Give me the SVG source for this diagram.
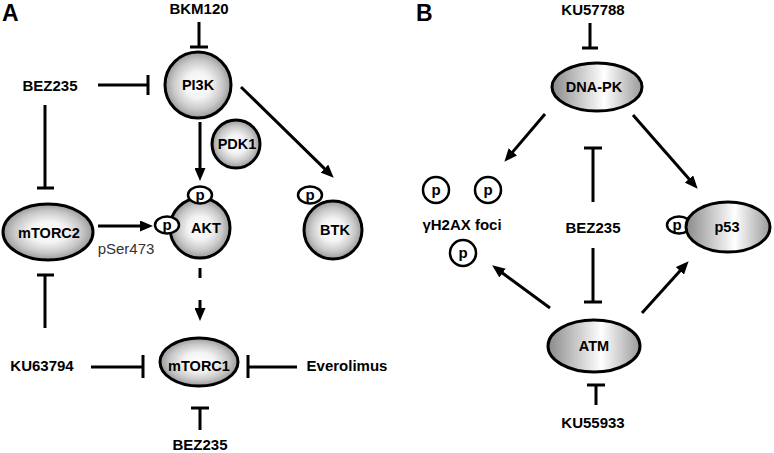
<svg xmlns="http://www.w3.org/2000/svg" width="774" height="453" viewBox="0 0 774 453">
<defs>
<radialGradient id="rg" cx="50%" cy="50%" r="50%">
<stop offset="0" stop-color="#ffffff"/>
<stop offset="0.4" stop-color="#f3f3f3"/>
<stop offset="0.75" stop-color="#c8c8c8"/>
<stop offset="1" stop-color="#9a9a9a"/>
</radialGradient>
<linearGradient id="lg" x1="0" y1="0" x2="1" y2="0">
<stop offset="0" stop-color="#8a8a8a"/>
<stop offset="0.58" stop-color="#ffffff"/>
<stop offset="1" stop-color="#9a9a9a"/>
</linearGradient>
<marker id="arr" markerUnits="userSpaceOnUse" markerWidth="13" markerHeight="11" refX="4" refY="5.5" orient="auto">
<path d="M0,0 L13,5.5 L0,11 z" fill="#000"/>
</marker>
</defs>
<style>
.t{font-family:"Liberation Sans",Arial,sans-serif;font-weight:bold;font-size:15px;fill:#000;text-anchor:middle}
.n{font-family:"Liberation Sans",Arial,sans-serif;font-weight:bold;font-size:14.5px;fill:#000;text-anchor:middle}
.pt{font-family:"Liberation Sans",Arial,sans-serif;font-weight:bold;font-size:15px;fill:#000;text-anchor:middle}
.lab{font-family:"Liberation Sans",Arial,sans-serif;font-weight:bold;font-size:23px;fill:#000}
.r{font-family:"Liberation Sans",Arial,sans-serif;font-size:15px;fill:#333;text-anchor:middle}
.nodeA{fill:url(#rg);stroke:#000;stroke-width:3}
.nodeB{fill:url(#lg);stroke:#000;stroke-width:3}
.p{fill:#fff;stroke:#000;stroke-width:2.5}
.c{stroke:#000;stroke-width:3;fill:none}
.a{stroke:#000;stroke-width:3;fill:none;marker-end:url(#arr)}
</style>

<text class="lab" x="2" y="21">A</text>
<text class="lab" x="416" y="21">B</text>

<g id="connectors">
<path class="c" d="M199,22 V47 M190,47 H208"/>
<path class="c" d="M98,85 H148 M148,75 V95"/>
<path class="c" d="M45,105 V188 M37,188 H54"/>
<path class="c" d="M45,328 V275 M37,275 H54"/>
<path class="c" d="M91,367 H143 M143,355 V378"/>
<path class="c" d="M297,367 H248 M248,355 V378"/>
<path class="c" d="M200,430 V408 M191,408 H209"/>
<path class="a" d="M200,122 V172"/>
<path class="a" d="M241,87 L327.3,171.4"/>
<path class="a" d="M98,226 H144"/>
<path class="c" d="M200,268 V278"/>
<path class="a" d="M200,300 V312"/>
<path class="c" d="M590,23 V48 M582,48 H598"/>
<path class="c" d="M593,202 V148 M584,148 H602"/>
<path class="c" d="M593,248 V302 M584,302 H602"/>
<path class="c" d="M596,405 V385 M587,385 H605"/>
<path class="a" d="M545,114 L510.2,154.9"/>
<path class="a" d="M633,115 L691.7,182"/>
<path class="a" d="M550,308 L499.4,270.7"/>
<path class="a" d="M642,313 L682.6,267.9"/>
</g>

<g id="BKM120"><text class="t" x="199" y="14">BKM120</text></g>
<g id="BEZ235_top"><text class="t" x="50" y="91">BEZ235</text></g>
<g id="PI3K"><circle class="nodeA" cx="198" cy="85" r="33"/><text class="n" x="198" y="90">PI3K</text></g>
<g id="PDK1"><circle class="nodeA" cx="236" cy="144" r="24"/><text class="n" x="237" y="149">PDK1</text></g>
<g id="AKT"><circle class="nodeA" cx="200" cy="228" r="30"/>
<ellipse class="p" cx="200" cy="195" rx="12" ry="8.5"/><text class="pt" x="200" y="200">p</text>
<ellipse class="p" cx="167" cy="225" rx="12" ry="8.5"/><text class="pt" x="167" y="230">p</text>
<text class="n" x="206" y="233">AKT</text></g>
<g id="BTK"><circle class="nodeA" cx="333" cy="230" r="29"/>
<ellipse class="p" cx="310" cy="195" rx="12" ry="8.5"/><text class="pt" x="310" y="200">p</text>
<text class="n" x="335" y="235">BTK</text></g>
<g id="mTORC2"><ellipse class="nodeA" cx="48" cy="232" rx="45" ry="28"/><text class="n" x="49" y="238">mTORC2</text></g>
<g id="pSer473"><text class="r" x="126" y="254">pSer473</text></g>
<g id="KU63794"><text class="t" x="42" y="371">KU63794</text></g>
<g id="mTORC1"><ellipse class="nodeA" cx="199" cy="362" rx="39" ry="24"/><text class="n" x="199" y="371">mTORC1</text></g>
<g id="Everolimus"><text class="t" x="347" y="371">Everolimus</text></g>
<g id="BEZ235_bottom"><text class="t" x="200" y="450">BEZ235</text></g>

<g id="KU57788"><text class="t" x="593" y="15">KU57788</text></g>
<g id="DNA-PK"><ellipse class="nodeB" cx="597" cy="87" rx="45" ry="24"/><text class="n" x="594" y="92">DNA-PK</text></g>
<g id="gH2AX">
<circle class="p" cx="436" cy="190" r="13"/><text class="pt" x="436" y="195">p</text>
<circle class="p" cx="488" cy="190" r="13"/><text class="pt" x="488" y="195">p</text>
<circle class="p" cx="463" cy="253" r="13"/><text class="pt" x="463" y="258">p</text>
<text class="t" x="462" y="230">γH2AX foci</text></g>
<g id="BEZ235_B"><text class="t" x="593" y="233">BEZ235</text></g>
<g id="p53"><ellipse class="p" cx="679" cy="225" rx="12" ry="8.5"/><text class="pt" x="677" y="230">p</text>
<ellipse class="nodeB" cx="728" cy="227" rx="42" ry="25"/><text class="n" x="727" y="232">p53</text></g>
<g id="ATM"><ellipse class="nodeB" cx="594" cy="346" rx="46" ry="26"/><text class="n" x="594" y="351">ATM</text></g>
<g id="KU55933"><text class="t" x="593" y="428">KU55933</text></g>
</svg>
